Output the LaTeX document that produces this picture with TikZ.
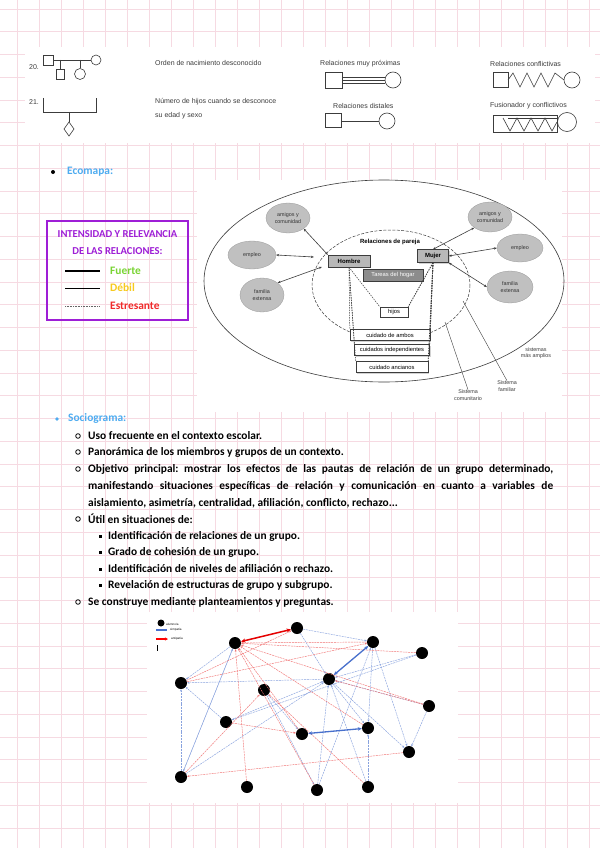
\documentclass[tikz,border=0pt]{standalone}
\usepackage{fontspec}
\setmainfont{Carlito}
\newfontfamily\scanfont{Liberation Sans}
\usepackage{xcolor}
\usepackage{tikz}
\usetikzlibrary{positioning,arrows.meta,shapes.geometric,calc,shadows}
\frenchspacing
\definecolor{gridpink}{RGB}{246,218,226}
\definecolor{notepurple}{RGB}{158,30,214}
\definecolor{noteblue}{RGB}{78,172,240}
\definecolor{notegreen}{RGB}{122,212,52}
\definecolor{noteyellow}{RGB}{247,202,30}
\definecolor{notered}{RGB}{240,42,42}
\definecolor{scangray}{RGB}{60,60,60}
\definecolor{bubblegray}{RGB}{192,192,192}
\definecolor{sociored}{RGB}{236,70,70}
\definecolor{socioblue}{RGB}{72,112,204}
\tikzset{
  grid-line/.style={draw=gridpink, line width=0.9pt},
  note-text/.style={font=\fontsize{11.4}{16.7}\selectfont\bfseries, anchor=west, inner sep=0pt},
  head-text/.style={font=\fontsize{11.4}{13}\selectfont\bfseries, text=noteblue, anchor=west, inner sep=0pt},
  legend-text/.style={font=\fontsize{10.6}{12}\selectfont\bfseries, text=notepurple, inner sep=0pt},
  scan-text/.style={font=\scanfont\fontsize{7}{9}\selectfont, text=scangray, anchor=west, inner sep=0pt},
  scan-line/.style={draw=scangray, line width=0.6pt},
  eco-bubble/.style={ellipse, fill=bubblegray, draw=bubblegray!80!black, line width=0.3pt,
    font=\scanfont\fontsize{5.4}{6.2}\selectfont, align=center, inner sep=0pt, text=black!80},
  eco-box/.style={draw=scangray, line width=0.4pt, fill=white, font=\scanfont\fontsize{5.8}{6.6}\selectfont,
    inner sep=1.5pt, drop shadow={shadow xshift=1pt, shadow yshift=-1pt, fill=black!35}},
  eco-arrow/.style={{Stealth[length=3pt,width=2.4pt]}-{Stealth[length=3pt,width=2.4pt]}, draw=scangray, line width=0.6pt},
  eco-dash/.style={draw=scangray, line width=0.5pt, dash pattern=on 1.5pt off 1pt},
  eco-label/.style={font=\scanfont\fontsize{5.4}{6.2}\selectfont, align=center, inner sep=0pt, text=scangray},
  socio-node/.style={circle, fill=black, minimum size=12pt, inner sep=0pt},
  socio-pos/.style={draw=socioblue!65, line width=0.45pt, dash pattern=on 2pt off 0.8pt, -{Stealth[length=2.4pt,width=2pt]}},
  socio-neg/.style={draw=sociored!75, line width=0.45pt, dash pattern=on 2pt off 0.8pt, -{Stealth[length=2.4pt,width=2pt]}},
  socio-pos-strong/.style={draw=socioblue, line width=1.3pt, {Stealth[length=4pt,width=3.5pt]}-{Stealth[length=4pt,width=3.5pt]}},
  socio-neg-strong/.style={draw=red!90!black, line width=1.5pt, {Stealth[length=4.5pt,width=4pt]}-{Stealth[length=4.5pt,width=4pt]}}
}

\begin{document}
\begin{tikzpicture}[x=1pt, y=-1pt]
\useasboundingbox (0,0) rectangle (600,848);
\fill[white] (0,0) rectangle (600,848);

% squared paper
\foreach \i in {0,...,26} \draw[grid-line] ({17+22*\i},0) -- ({17+22*\i},848);
\foreach \i in {0,...,37} \draw[grid-line] (0,{9+22.75*\i}) -- (600,{9+22.75*\i});

% ---------- scanned strip: genogram symbols ----------
\fill[white] (25,47) rectangle (595,143);
\node[scan-text] (n20) at (29,67) {20.};
\draw[scan-line] (43,55) rectangle (53,65);
\draw[scan-line] (53,60) -- (91,60);
\draw[scan-line] (96,60) circle (5);
\draw[scan-line] (60,60) -- (60,69);
\draw[scan-line] (56,69) rectangle (64,79);
\draw[scan-line] (80,60) -- (80,68.5);
\draw[scan-line] (80,74) circle (5.5);
\node[scan-text] (orden) at (155,63) {Orden de nacimiento desconocido};

\node[scan-text] (n21) at (29,102) {21.};
\draw[scan-line] (43,98) -- (43,112) -- (96,112) -- (96,98);
\draw[scan-line] (69,112) -- (69,122);
\draw[scan-line] (69,122) -- (74,129) -- (69,136) -- (64,129) -- cycle;
\node[scan-text] (numero) at (155,102) {Número de hijos cuando se desconoce};
\node[scan-text] (edad) at (155,116) {su edad y sexo};

\node[scan-text] (proximas) at (320,64) {Relaciones muy próximas};
\draw[scan-line] (325,72) rectangle (342,88);
\foreach \dy in {77,80,83} \draw[scan-line] (342,\dy) -- (385,\dy);
\draw[scan-line] (393,80) circle (8);

\node[scan-text] (distales) at (333,106) {Relaciones distales};
\draw[scan-line] (325,113) rectangle (341,127);
\draw[scan-line] (341,121) -- (379,121);
\draw[scan-line] (387,121) circle (8);

\node[scan-text] (conflictivas) at (490,64) {Relaciones conflictivas};
\draw[scan-line] (493,72) rectangle (508,87);
\draw[scan-line] (508,80) -- (513,73) -- (520,87) -- (527,73) -- (534,87) -- (541,73) -- (548,87) -- (555,73) -- (564,80);
\draw[scan-line] (572,80) circle (8);

\node[scan-text] (fusionador) at (490,106) {Fusionador y conflictivos};
\draw[scan-line] (493,115) rectangle (557,132);
\draw[scan-line] (508,118) -- (557,118);
\draw[scan-line] (503,118) -- (510,131) -- (517,118) -- (524,131) -- (531,118) -- (538,131) -- (545,118) -- (552,131) -- (557,122);
\draw[scan-line] (567,122) circle (9.5);

% ---------- Ecomapa ----------
\fill[black] (53,172) circle (2);
\node[head-text] (ecomapa) at (67,172) {Ecomapa:};

% legend box
\draw[notepurple, line width=2.2pt] (47,221) rectangle (188,320);
\node[legend-text] (leyenda1) at (117.5,234) {INTENSIDAD Y RELEVANCIA};
\node[legend-text] (leyenda2) at (117.5,251) {DE LAS RELACIONES:};
\draw[black, line width=2pt] (65,271) -- (100,271);
\draw[black, line width=0.6pt] (65,288) -- (100,288);
\draw[black!60, line width=0.6pt, dash pattern=on 1pt off 0.6pt] (65,306) -- (100,306);
\node[note-text, text=notegreen] (fuerte) at (110,271) {Fuerte};
\node[note-text, text=noteyellow] (debil) at (110,288) {Débil};
\node[note-text, text=notered] (estresante) at (110,306) {Estresante};

% scanned ecomap
\fill[white] (197,180) rectangle (562,412);
\draw[scangray, line width=0.6pt] (384,281) ellipse (180 and 101);
\draw[scangray, line width=0.5pt, dash pattern=on 3pt off 1.5pt] (391,285) ellipse (79 and 55);

\node[font=\scanfont\bfseries\fontsize{6}{7}\selectfont, text=black, inner sep=0pt] (pareja) at (390,242) {Relaciones de pareja};
\node[eco-box, fill=black!28, minimum width=42pt, minimum height=12pt, font=\scanfont\bfseries\fontsize{6}{7}\selectfont] (hombre) at (349,261) {Hombre};
\node[eco-box, fill=black!28, minimum width=31pt, minimum height=13pt, font=\scanfont\bfseries\fontsize{6}{7}\selectfont] (mujer) at (433,256) {Mujer};
\node[eco-box, fill=black!45, text=white, minimum width=60pt, minimum height=12pt] (tareas) at (393,275) {Tareas del hogar};
\node[eco-box, minimum width=28pt, minimum height=10pt] (hijos) at (394,312) {hijos};
\node[eco-box, minimum width=80pt, minimum height=11pt] (cuidadoA) at (390,335) {cuidado de ambos};
\node[eco-box, minimum width=75pt, minimum height=11pt] (cuidadoB) at (392,350) {cuidados independientes};
\node[eco-box, minimum width=72pt, minimum height=11pt] (cuidadoC) at (392,367) {cuidado ancianos};

\node[eco-bubble, minimum width=44pt, minimum height=30pt] (amigosL) at (288,218) {amigos y\\comunidad};
\node[eco-bubble, minimum width=48pt, minimum height=28pt] (empleoL) at (252,255) {empleo};
\node[eco-bubble, minimum width=44pt, minimum height=34pt] (familiaL) at (262,295) {familia\\extensa};
\node[eco-bubble, minimum width=44pt, minimum height=30pt] (amigosR) at (490,217) {amigos y\\comunidad};
\node[eco-bubble, minimum width=46pt, minimum height=28pt] (empleoR) at (520,248) {empleo};
\node[eco-bubble, minimum width=46pt, minimum height=32pt] (familiaR) at (510,287) {familia\\extensa};

\draw[eco-arrow] (amigosL.south east) -- (hombre.north west);
\draw[eco-arrow] (empleoL.east) -- ($(hombre.west)+(-14,-4)$);
\draw[eco-arrow] (familiaL.north east) -- ($(hombre.west)+(-6,6)$);
\draw[eco-arrow] (mujer.north) -- (amigosR.south west);
\draw[eco-arrow] (mujer.east) -- (empleoR.west);
\draw[eco-arrow] (mujer.south east) -- (familiaR.west);

% couple to shared tasks
\foreach \task in {hijos, cuidadoA, cuidadoB, cuidadoC}
  \draw[eco-dash] (hombre.south) -- (\task.north west);
\foreach \task in {hijos, cuidadoA, cuidadoB, cuidadoC}
  \draw[eco-dash, line width=0.8pt] (mujer.south) -- (\task.north east);

\node[eco-label] (amplios) at (536,353) {sistemas\\más amplios};
\node[eco-label] (sisfam) at (507,386) {Sistema\\familiar};
\node[eco-label] (siscom) at (468,395) {Sistema\\comunitario};
\coordinate (famend) at (463,301);
\coordinate (comend) at (445,322);
\draw[scangray, line width=0.4pt] (sisfam.north) -- (famend);
\draw[scangray, line width=0.4pt] (siscom.north) -- (comend);

% ---------- Sociograma ----------
\fill[noteblue] (57,419) circle (1.8);
\node[head-text] (sociograma) at (68,418) {Sociograma:};

\foreach \yy in {436,452,469,519,602} \draw[black, line width=0.8pt] (78,\yy) circle (2.3);
\foreach \yy in {536,552,569,585} \fill[black] (98.5,{\yy-1.5}) rectangle ++(3,3);

\node[note-text] (uso) at (88,436) {Uso frecuente en el contexto escolar.};
\node[note-text] (panoramica) at (88,452) {Panorámica de los miembros y grupos de un contexto.};
\node[note-text, anchor=north west, text width=465pt, align=justify] (objetivo) at (88,464.5)
  {Objetivo principal: mostrar los efectos de las pautas de relación de un grupo determinado,\linebreak
   manifestando situaciones específicas de relación y comunicación en cuanto a variables de\linebreak
   aislamiento, asimetría, centralidad, afiliación, conflicto, rechazo...};
\node[note-text] (util) at (88,519) {Útil en situaciones de:};
\node[note-text] (ident1) at (108,536) {Identificación de relaciones de un grupo.};
\node[note-text] (grado) at (108,552) {Grado de cohesión de un grupo.};
\node[note-text] (ident2) at (108,569) {Identificación de niveles de afiliación o rechazo.};
\node[note-text] (revela) at (108,585) {Revelación de estructuras de grupo y subgrupo.};
\node[note-text] (construye) at (88,602) {Se construye mediante planteamientos y preguntas.};

% scanned sociogram
\fill[white] (147,612) rectangle (458,803);
\node[socio-node, minimum size=7pt] (keydot) at (161,623) {};
\node[font=\scanfont\fontsize{3}{3.5}\selectfont, anchor=west, inner sep=0pt] (keyalumno) at (166,624) {alumno/a};
\coordinate (keyb1) at (156,630);
\coordinate (keyb2) at (167,630);
\draw[socioblue, line width=1.3pt] (keyb1) -- (keyb2);
\node[font=\scanfont\fontsize{3}{3.5}\selectfont, anchor=west, inner sep=0pt] (keysimp) at (170,630) {simpatía};
\coordinate (keyr1) at (156,639);
\coordinate (keyr2) at (168,639);
\draw[red, line width=1.5pt, -{Stealth[length=3pt,width=3pt]}] (keyr1) -- (keyr2);
\node[font=\scanfont\fontsize{3}{3.5}\selectfont, anchor=west, inner sep=0pt] (keyanti) at (171,639) {antipatía};
\draw[black, line width=0.6pt] (157,645) -- (157,651);

\node[socio-node] (s1) at (235,643) {};
\node[socio-node] (s2) at (297,628) {};
\node[socio-node] (s3) at (181,683) {};
\node[socio-node] (s4) at (264,690) {};
\node[socio-node] (s5) at (226,722) {};
\node[socio-node] (s6) at (302,734) {};
\node[socio-node] (s7) at (181,777) {};
\node[socio-node] (s8) at (247,787) {};
\node[socio-node] (s9) at (317,790) {};
\node[socio-node] (s10) at (373,642) {};
\node[socio-node] (s11) at (422,653) {};
\node[socio-node] (s12) at (329,679) {};
\node[socio-node] (s13) at (429,706) {};
\node[socio-node] (s14) at (368,728) {};
\node[socio-node] (s15) at (409,752) {};
\node[socio-node] (s16) at (368,787) {};

% choices (blue) and rejections (red)
\foreach \a/\b in {s7/s3, s1/s3, s5/s3, s12/s3, s7/s1, s7/s12, s5/s12, s4/s6, s2/s12, s2/s10,
                   s9/s12, s9/s10, s16/s12, s16/s14, s10/s14, s10/s15, s11/s12, s11/s5,
                   s13/s12, s13/s15, s12/s14, s12/s15, s1/s7, s4/s9}
  \draw[socio-pos] (\a) -- (\b);
\foreach \a/\b in {s3/s2, s7/s4, s5/s6, s8/s1, s9/s1, s11/s1, s13/s12, s15/s7, s16/s4,
                   s14/s1, s10/s1, s13/s1, s6/s1, s3/s10}
  \draw[socio-neg] (\a) -- (\b);
\draw[socio-neg-strong] (s1) -- (s2);
\draw[socio-pos-strong] (s10) -- (s12);
\draw[socio-pos-strong] (s6) -- (s14);
\end{tikzpicture}
\end{document}
